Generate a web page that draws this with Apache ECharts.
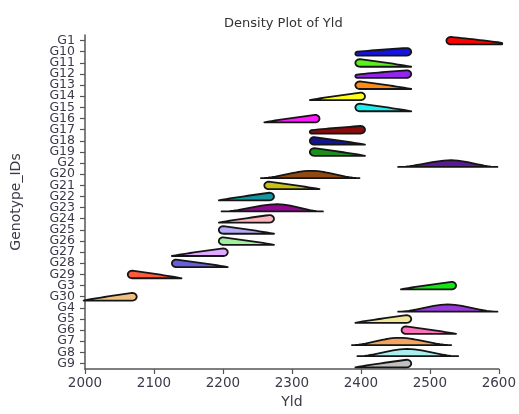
<!DOCTYPE html>
<html>
<head>
<meta charset="utf-8">
<script src="https://cdn.jsdelivr.net/npm/echarts@6/dist/echarts.min.js"></script>
<style>
  html, body { margin: 0; padding: 0; background: #fff; }
  #chart { width: 519px; height: 414px; }
</style>
</head>
<body>
<div id="chart"></div>
<script>
// genotypes in the (alphabetical) order of the y axis, top to bottom
const genotypes = ['G1','G10','G11','G12','G13','G14','G15','G16','G17','G18','G19',
  'G2','G20','G21','G22','G23','G24','G25','G26','G27','G28','G29',
  'G3','G30','G4','G5','G6','G7','G8','G9'];

// density range of Yld: lowest, mode, highest
const yldMin  = [2524,2392,2392,2392,2392,2326,2392,2260,2326,2326,2326,
  2454,2255,2260,2194,2198,2194,2194,2194,2126,2126,2062,
  2458,1998,2454,2392,2459,2387,2395,2392];
const yldMode = [2524,2473,2392,2473,2392,2406,2392,2340,2406,2326,2326,
  2531,2328,2260,2274,2279,2274,2194,2194,2207,2126,2062,
  2538,2075,2526,2473,2459,2455,2467,2473];
const yldMax  = [2605,2473,2473,2473,2473,2406,2473,2340,2406,2406,2406,
  2598,2398,2340,2274,2345,2274,2274,2274,2207,2207,2140,
  2538,2075,2598,2473,2538,2531,2541,2473];
// peak height as a share of the row height
const peakHeight = [0.68,0.68,0.68,0.68,0.68,0.68,0.68,0.68,0.68,0.68,0.68,
  0.6,0.65,0.68,0.68,0.65,0.68,0.68,0.68,0.68,0.68,0.68,
  0.68,0.68,0.65,0.68,0.68,0.65,0.65,0.68];
// height left at the thin end, same unit
const tailHeight = [0.15,0.35,0,0.3,0,0,0,0,0.3,0,0,
  0,0,0,0,0,0,0,0,0,0,0,
  0,0,0,0,0,0,0,0];

const colors = ['#ff0000','#1414e6','#5cf01a','#9424f0','#ff8a14','#ffff1a','#1af0f0','#ff1aff','#8b0a0a','#14148f','#1a8f1a',
  '#5a1a96','#8f4a14','#c8c014','#14969e','#8f0a8f','#ffb4bc','#b4aaf5','#a0f0a0','#e0a8ff','#6460dc','#ff5a3c',
  '#14e614','#f0c080','#9a3ad6','#f0e898','#ff6eb8','#f5a460','#aaeeee','#c0c0c0'];

const chartData = genotypes.map((g, i) => [yldMin[i], yldMode[i], yldMax[i], i, peakHeight[i], tailHeight[i]]);

// teardrop: round blunt end at xBlunt, thin end at xTip (either side)
function teardrop (xBlunt, xTip, yb, H, T) {
  const dir = xTip > xBlunt ? 1 : -1
  const rx = 4.5, rt = T / 2
  const pts = []
  const cx = xBlunt + dir * rx, cy = yb - H / 2
  for (let k = 0; k <= 12; k++) { // bottom -> outer -> top
    const a = Math.PI / 2 + k / 12 * Math.PI
    pts.push([cx + dir * rx * Math.cos(a), cy + H / 2 * Math.sin(a)])
  }
  const xEnd = xTip - dir * rt
  for (let k = 1; k <= 14; k++) {
    const t = k / 14
    pts.push([cx + (xEnd - cx) * t, yb - T - (H - T) * Math.pow(1 - t, 0.9)])
  }
  if (T > 0) {
    for (let k = 1; k <= 8; k++) { // round cap at the thin end
      const a = -Math.PI / 2 + k / 8 * Math.PI
      pts.push([xEnd + dir * rt * Math.cos(a), yb - rt + rt * Math.sin(a)])
    }
  }
  return pts
}

function renderDensity (params, api) {
  const i = api.value(3)
  const pLo = api.coord([api.value(0), i])
  const xMode = api.coord([api.value(1), i])[0]
  const xHi = api.coord([api.value(2), i])[0]
  const xLo = pLo[0]
  const band = api.size([0, 1])[1]
  const yb = pLo[1] + band * 0.35
  const H = band * api.value(4)
  const T = band * api.value(5)
  let pts = []
  if (xMode - xLo < 2) {
    pts = teardrop(xLo, xHi, yb, H, T)
  } else if (xHi - xMode < 2) {
    pts = teardrop(xHi, xLo, yb, H, T)
  } else { // peak in the middle
    const s = t => t * t * (3 - 2 * t)
    for (let k = 0; k <= 14; k++) {
      const t = k / 14
      pts.push([xLo + (xMode - xLo) * t, yb - H * s(t)])
    }
    for (let k = 1; k <= 14; k++) {
      const t = k / 14
      pts.push([xMode + (xHi - xMode) * t, yb - H * s(1 - t)])
    }
  }
  return {
    type: 'polygon',
    shape: { points: pts },
    style: { fill: colors[i], stroke: '#151515', lineWidth: 1.8, lineJoin: 'round' }
  }
}

const chart = echarts.init(document.getElementById('chart'), null, { renderer: 'canvas' })
chart.setOption({
  animation: false,
  title: {
    text: 'Density Plot of Yld',
    left: 219,
    top: 12,
    textStyle: { fontFamily: 'DejaVu Sans', fontSize: 13, fontWeight: 'normal', color: '#333' }
  },
  grid: { left: 85, right: 14, top: 35, bottom: 44 },
  xAxis: {
    type: 'value',
    min: 2000,
    max: 2600,
    interval: 100,
    name: 'Yld',
    nameLocation: 'middle',
    nameGap: 26,
    nameTextStyle: { fontFamily: 'DejaVu Sans', fontSize: 14, color: '#3a3a4a' },
    splitLine: { show: false },
    axisLine: { show: true, lineStyle: { color: '#555', width: 1.5 } },
    axisTick: { show: true, inside: false, length: 5, lineStyle: { color: '#555', width: 1.2 } },
    axisLabel: { margin: 7, fontFamily: 'DejaVu Sans', fontSize: 13.5, color: '#3a3a4a', formatter: v => String(v) }
  },
  yAxis: {
    type: 'category',
    data: genotypes,
    inverse: true,
    name: 'Genotype_IDs',
    nameLocation: 'middle',
    nameGap: 62,
    nameTextStyle: { fontFamily: 'DejaVu Sans', fontSize: 14, color: '#3a3a4a' },
    axisLine: { show: true, lineStyle: { color: '#555', width: 1.5 } },
    axisTick: { show: true, inside: false, alignWithLabel: true, length: 5, lineStyle: { color: '#555', width: 1.2 } },
    axisLabel: { interval: 0, margin: 10, fontFamily: 'DejaVu Sans', fontSize: 12.5, color: '#3a3a4a' }
  },
  series: [{
    type: 'custom',
    renderItem: renderDensity,
    encode: { x: [0, 1, 2], y: 3 },
    data: chartData
  }]
})
</script>
</body>
</html>
